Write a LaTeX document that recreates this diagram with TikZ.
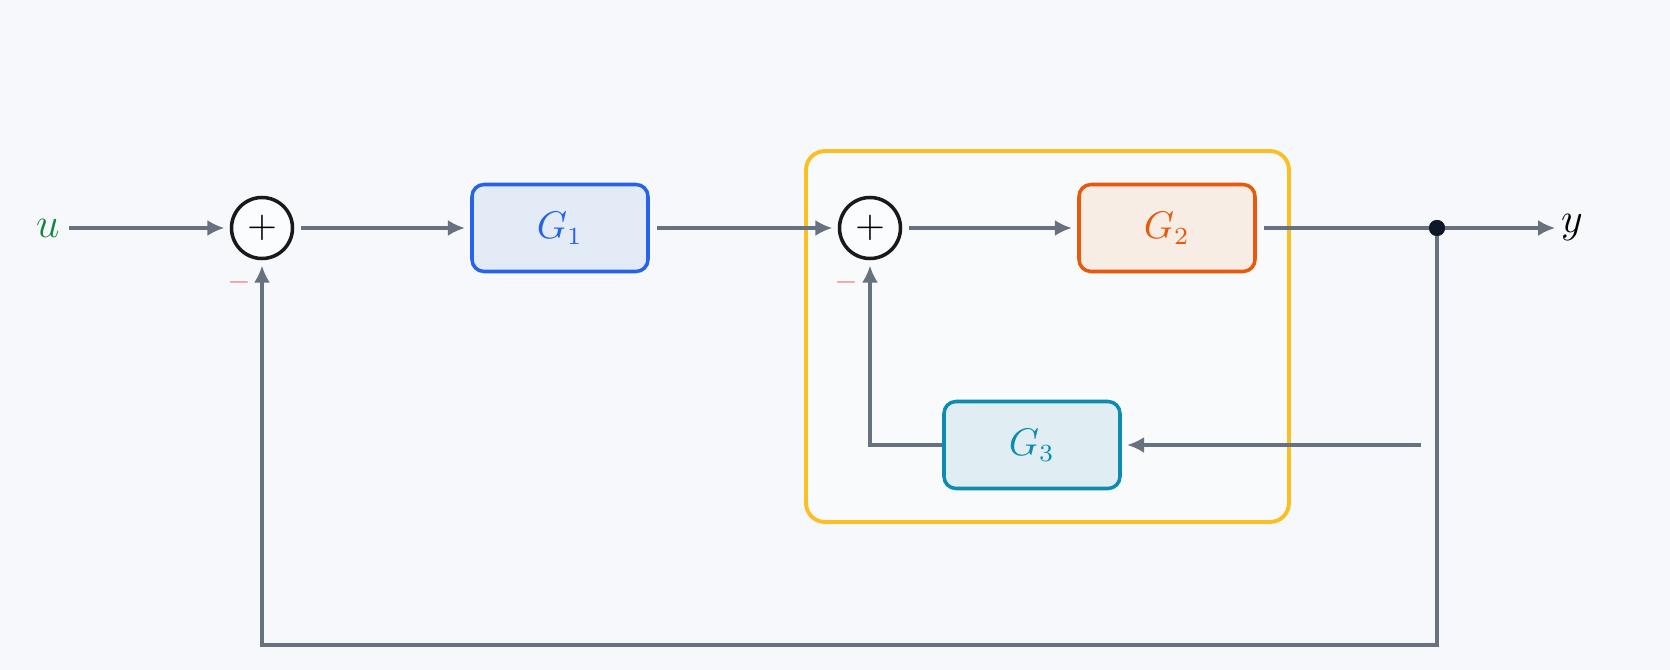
\documentclass[tikz,border=0pt]{standalone}
\usepackage{amsmath}
\usepackage{tikz}
\usetikzlibrary{arrows.meta,positioning,calc}

\definecolor{bgcol}{HTML}{F6F8FB}
\definecolor{wirecol}{HTML}{67717F}
\definecolor{ucol}{HTML}{17843F}
\definecolor{gonecol}{HTML}{2563EB}
\definecolor{gonefill}{HTML}{E3EBF7}
\definecolor{gtwocol}{HTML}{EA580C}
\definecolor{gtwofill}{HTML}{F8EDE4}
\definecolor{gthreecol}{HTML}{0C8DB0}
\definecolor{gthreefill}{HTML}{E0EEF4}
\definecolor{loopcol}{HTML}{FBBF24}
\definecolor{minuscol}{HTML}{E98080}
\definecolor{dotcol}{HTML}{0F172A}

\tikzset{
  block/.style = {draw, rounded corners=0.12cm, line width=1pt,
    minimum width=1.76cm, minimum height=0.87cm, inner sep=0pt,
    font=\fontsize{10.5}{12}\selectfont},
  sumnode/.style = {draw=black!90, circle, line width=1pt, fill=white!60!bgcol,
    minimum size=0.61cm, inner sep=0pt, font=\fontsize{10.5}{12}\selectfont},
  signal/.style = {inner sep=0.2mm, font=\large},
  minuslbl/.style = {text=minuscol, inner sep=0pt, font=\footnotesize},
  wire/.style = {draw=wirecol, line width=1.1pt},
  flow/.style = {wire, -{Latex[length=1.7mm,width=1.6mm]}, shorten >=1.5pt, shorten <=2pt}
}

\begin{document}
\begin{tikzpicture}[node distance = 2cm]
\fill[bgcol] (0,0) rectangle (16.7,-6.7);
\useasboundingbox (0,0) rectangle (16.7,-6.7);

% inner loop frame
\draw[loopcol, line width=1.1pt, rounded corners=0.19cm, fill=white, fill opacity=0.35]
    (8.06,-1.51) rectangle (12.89,-5.22);

\node[signal, text=ucol] (u) at (0.48,-2.28) {$u$};
\node[sumnode] (sum1) [right of = u, node distance=2.14cm] {$+$};
\node[block, draw=gonecol, fill=gonefill, text=gonecol] (G1) [right of = sum1, node distance=2.98cm] {$G_1$};
\node[sumnode] (sum2) [right of = G1, node distance=3.10cm] {$+$};
\node[block, draw=gtwocol, fill=gtwofill, text=gtwocol] (G2) [right of = sum2, node distance=2.97cm] {$G_2$};
\node[block, draw=gthreecol, fill=gthreefill, text=gthreecol] (G3) at (10.32,-4.45) {$G_3$};
\node[circle, fill=dotcol, minimum size=0.16cm, inner sep=0pt] (dot) [right of = G2, node distance=2.70cm] {};
\node[signal, inner sep=0pt] (y) [right of = dot, node distance=1.35cm] {$y$};

\node[minuslbl] (m1) at ([xshift=-0.23cm,yshift=-0.54cm]sum1.center) {$-$};
\node[minuslbl] (m2) at ([xshift=-0.24cm,yshift=-0.54cm]sum2.center) {$-$};

\coordinate (tap) at ($(dot |- G3)+(-0.09,0)$);
\coordinate (fb) at ($(dot)+(0,-4.17)$);

\path[flow] (u) -- (sum1);
\path[flow] (sum1) -- (G1);
\path[flow] (G1) -- (sum2);
\path[flow] (sum2) -- (G2);
\path[wire, shorten <=2pt] (G2) -- (dot.center);
\path[flow, shorten <=0pt] (dot.center) -- (y);
\path[flow] (tap) -- (G3);
\path[flow, shorten <=0pt] (G3.west) -| (sum2);
\path[flow] (dot.center) -- (fb) -| (sum1);
\node[circle, fill=dotcol, minimum size=0.16cm, inner sep=0pt] at (dot) {};
\end{tikzpicture}
\end{document}
